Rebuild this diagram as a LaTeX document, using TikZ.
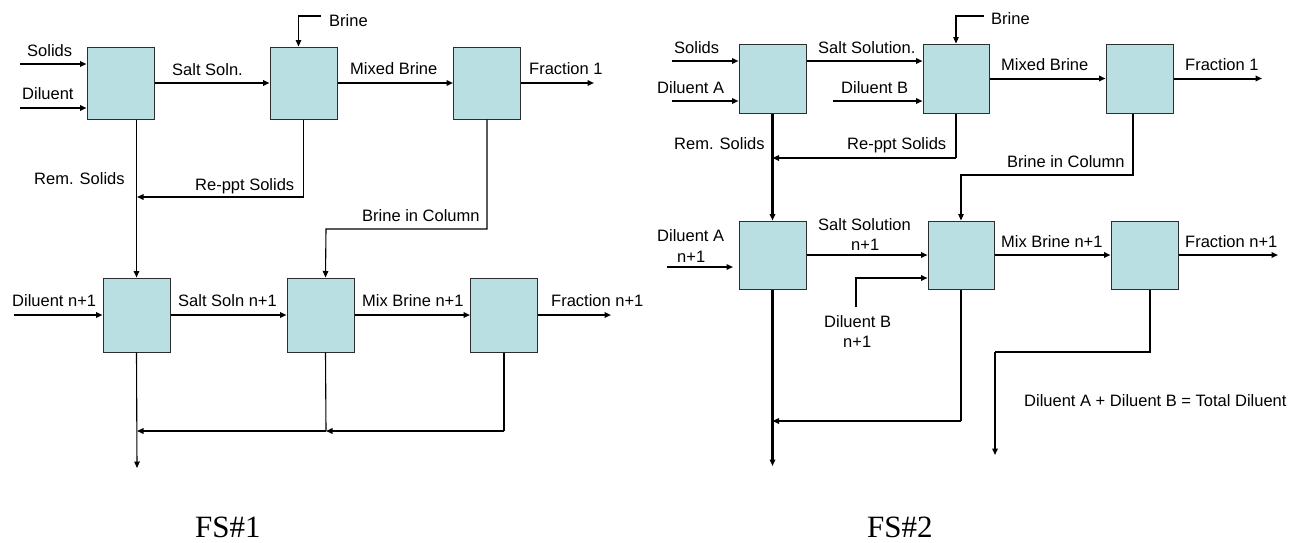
\documentclass[tikz,border=0pt]{standalone}
\usepackage{fontspec}
\setmainfont{Liberation Sans}
\newfontfamily\capfont{Liberation Serif}
\usetikzlibrary{arrows.meta}
\definecolor{boxfill}{RGB}{186,223,227}
\definecolor{boxline}{RGB}{45,45,45}
\begin{document}
\begin{tikzpicture}[x=1pt,y=-1pt,
  box/.style={draw=boxline,fill=boxfill,line width=1pt,inner sep=0pt,minimum width=67pt},
  lbl/.style={anchor=base west,inner sep=0pt,font=\fontsize{16.5}{19}\selectfont},
  figcap/.style={anchor=base west,inner sep=0pt,font=\capfont\fontsize{31}{36}\selectfont},
  tip/.style={-{Triangle[length=6.5pt,width=5.5pt]}},
  thk/.style={line width=2pt},
  med/.style={line width=1.5pt},
  thn/.style={line width=1.1pt},
  hvy/.style={line width=2.8pt}]
\useasboundingbox (0,0) rectangle (1302,542);

% ================= FS#1 =================
\node[box,minimum height=72pt] (A1) at (120.5,83) {};
\node[box,minimum height=72pt] (B1) at (303.5,83) {};
\node[box,minimum height=72pt] (C1) at (487,83) {};
\node[box,minimum height=74pt] (D1) at (136.5,315) {};
\node[box,minimum height=74pt] (E1) at (320.5,315) {};
\node[box,minimum height=74pt] (F1) at (504,315) {};

\coordinate (s1) at (20,64);
\coordinate (d1) at (20,108);
\coordinate (br1) at (321,16);
\coordinate (fr1) at (594,83);
\coordinate (rp1) at (137,197);
\coordinate (bc1) at (326,229);
\coordinate (dn1) at (14,315);
\coordinate (fn1) at (611,315);
\coordinate (out1) at (137,468);
\coordinate (k1) at (137,431);
\coordinate (k2) at (326,431);

\draw[thk,tip] (s1) -- (A1.west |- s1);
\draw[thk,tip] (d1) -- (A1.west |- d1);
\draw[thk,tip] (A1.east) -- (B1.west);
\draw[thk,tip] (B1.east) -- (C1.west);
\draw[thk,tip] (C1.east) -- (fr1);
\draw[thn,tip] (br1) -| ([xshift=-5pt]B1.north);
\draw[med,tip] (A1.south -| D1.north) -- (D1.north);
\draw[thn] (B1.south) -- (B1.south |- rp1);
\draw[med,tip] (B1.south |- rp1) -- (rp1);
\draw[thn,tip] (C1.south) |- (bc1) -- ([xshift=5pt]E1.north);
\draw[thk,tip] (dn1) -- (D1.west);
\draw[thk,tip] (D1.east) -- (E1.west);
\draw[thk,tip] (E1.east) -- (F1.west);
\draw[thk,tip] (F1.east) -- (fn1);
\draw[thn,tip] (D1.south) -- (out1);
\draw[thn] (F1.south) -- (F1.south |- k2);
\draw[med,tip] (F1.south |- k2) -- (k2);
\draw[thn] ([xshift=5pt]E1.south) -- (k2);
\draw[med,tip] (k2) -- (k1);

\node[lbl] (t1) at (27,56.5) {Solids};
\node[lbl] (t2) at (22,99) {Diluent};
\node[lbl] (t3) at (172,75) {Salt Soln.};
\node[lbl] (t4) at (329,26) {Brine};
\node[lbl] (t5) at (350,74) {Mixed Brine};
\node[lbl] (t6) at (529,74) {Fraction 1};
\node[lbl] (t7) at (34,184) {Rem. Solids};
\node[lbl] (t8) at (195,190) {Re-ppt Solids};
\node[lbl] (t9) at (362,221) {Brine in Column};
\node[lbl] (t10) at (12,306) {Diluent n+1};
\node[lbl] (t11) at (178,306) {Salt Soln n+1};
\node[lbl] (t12) at (362,306) {Mix Brine n+1};
\node[lbl] (t13) at (551,306) {Fraction n+1};
\node[figcap] (c1) at (195,537) {FS\#1};

% ================= FS#2 =================
\node[box,minimum height=69pt] (A2) at (772.5,78.5) {};
\node[box,minimum height=69pt,minimum width=66pt] (B2) at (956,78.5) {};
\node[box,minimum height=69pt] (C2) at (1139.5,78.5) {};
\node[box,minimum height=68pt] (D2) at (772.5,255) {};
\node[box,minimum height=68pt,minimum width=66pt] (E2) at (961,255) {};
\node[box,minimum height=68pt] (F2) at (1144.5,255) {};

\coordinate (s2) at (672,61);
\coordinate (d2) at (672,101);
\coordinate (db2) at (833,101);
\coordinate (br2) at (984,16);
\coordinate (fr2) at (1262,78.5);
\coordinate (rp2) at (772.5,158);
\coordinate (bc2) at (961,175);
\coordinate (dan2) at (667,267);
\coordinate (dae2) at (733,267);
\coordinate (dbn2) at (856,307);
\coordinate (fn2) at (1278,255);
\coordinate (out2) at (772.5,466);
\coordinate (m2) at (772.5,421);
\coordinate (tb2) at (995,352);
\coordinate (tot2) at (995,455);

\draw[thk,tip] (s2) -- (A2.west |- s2);
\draw[thk,tip] (d2) -- (A2.west |- d2);
\draw[thk,tip] (A2.east |- s2) -- (B2.west |- s2);
\draw[thk,tip] (db2) -- (B2.west |- db2);
\draw[thn,tip] (br2) -| (B2.north);
\draw[thk,tip] (B2.east) -- (C2.west);
\draw[thk,tip] (C2.east) -- (fr2);
\draw[hvy,tip] (A2.south) -- (D2.north);
\draw[thn] (B2.south) -- (B2.south |- rp2);
\draw[med,tip] (B2.south |- rp2) -- (rp2);
\draw[thn,tip] ([xshift=-6.5pt]C2.south) |- (bc2) -- (E2.north);
\draw[med,tip] (dan2) -- (dae2);
\draw[thk,tip] (D2.east) -- (E2.west);
\draw[med,tip] (dbn2) |- (E2.west |- 0,278);
\draw[thk,tip] (E2.east) -- (F2.west);
\draw[thk,tip] (F2.east) -- (fn2);
\draw[hvy,tip] (D2.south) -- (out2);
\draw[thn] (E2.south) -- (E2.south |- m2);
\draw[med,tip] (E2.south |- m2) -- (m2);
\draw[thn] ([xshift=5.5pt]F2.south) |- (tb2);
\draw[med,tip] (tb2) -- (tot2);

\node[lbl] (u1) at (674,53) {Solids};
\node[lbl] (u2) at (657,93) {Diluent A};
\node[lbl] (u3) at (818,53) {Salt Solution.};
\node[lbl] (u4) at (841,93) {Diluent B};
\node[lbl] (u5) at (991,24) {Brine};
\node[lbl] (u6) at (1001,70) {Mixed Brine};
\node[lbl] (u7) at (1185,70) {Fraction 1};
\node[lbl] (u8) at (674,149) {Rem. Solids};
\node[lbl] (u9) at (847,149) {Re-ppt Solids};
\node[lbl] (u10) at (1007,167) {Brine in Column};
\node[lbl] (u11) at (657,241) {Diluent A};
\node[lbl] (u12) at (677,262) {n+1};
\node[lbl] (u13) at (818,230) {Salt Solution};
\node[lbl] (u14) at (851,250) {n+1};
\node[lbl] (u15) at (824,327) {Diluent B};
\node[lbl] (u16) at (843,347) {n+1};
\node[lbl] (u17) at (1001,247) {Mix Brine n+1};
\node[lbl] (u18) at (1185,247) {Fraction n+1};
\node[lbl] (u19) at (1024,406) {Diluent A + Diluent B = Total Diluent};
\node[figcap] (c2) at (867,537) {FS\#2};
\end{tikzpicture}
\end{document}
